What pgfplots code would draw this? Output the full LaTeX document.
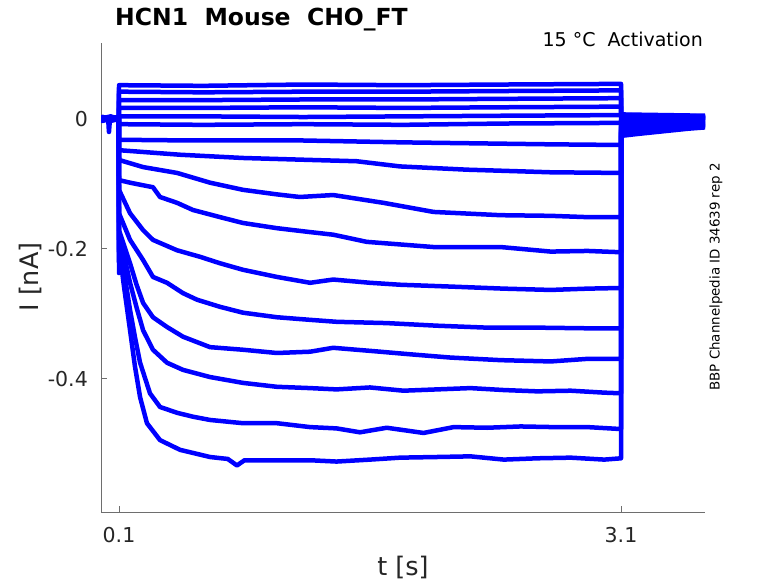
\documentclass[border=0pt]{standalone}
\usepackage{pgfplots}
\pgfplotsset{compat=1.18}
\usepackage{fontspec}
\setmainfont{DejaVu Sans}
\definecolor{axgray}{RGB}{110,110,110}
\definecolor{txt}{RGB}{38,38,38}
\definecolor{trace}{RGB}{0,0,255}
\pgfplotsset{tr/.style={draw=trace, solid, line width=4.5pt, line join=round, line cap=round, mark=none}}
\begin{document}
\begin{tikzpicture}
\path[use as bounding box] (0pt,0pt) rectangle (778pt,583pt);
\begin{axis}[
  at={(101pt,71pt)}, anchor=south west,
  width=604pt, height=469pt, scale only axis,
  xmin=-0.0076, xmax=3.602, ymin=-0.6046, ymax=0.1169,
  axis x line*=bottom, axis y line*=left,
  axis line style={-, axgray, line width=1pt},
  tick align=inside, major tick length=6pt,
  tick style={axgray, line width=1pt},
  xtick={0.1,3.1}, xticklabels={0.1,3.1},
  ytick={-0.4,-0.2,0}, yticklabels={-0.4,-0.2,0},
  xticklabel style={font=\fontsize{20.5}{24}\selectfont, text=txt, anchor=north, inner sep=0pt, yshift=-15pt},
  yticklabel style={font=\fontsize{20.5}{24}\selectfont, text=txt, anchor=east, inner sep=0pt, xshift=-13pt},
]
% T10
\addplot[tr] coordinates {(0,0.001)(0.05,-0.003)(0.0995,0.0)(0.1,-0.237)(0.106,-0.21)(0.13,-0.258)(0.166,-0.325)(0.195,-0.38)(0.226,-0.428)(0.267,-0.468)(0.345,-0.494)(0.465,-0.509)(0.644,-0.52)(0.75,-0.523)(0.805,-0.533)(0.85,-0.525)(0.943,-0.525)(1.242,-0.525)(1.4,-0.527)(1.6,-0.524)(1.78,-0.521)(2.0,-0.52)(2.2,-0.519)(2.4,-0.524)(2.6,-0.522)(2.8,-0.521)(3.0,-0.524)(3.1,-0.522)(3.1,-0.026)(3.2,-0.023)(3.35,-0.019)(3.5,-0.015)(3.6,-0.013)};
% T9
\addplot[tr] coordinates {(0,-0.001)(0.05,0.002)(0.0995,-0.002)(0.1,-0.22)(0.106,-0.19)(0.13,-0.235)(0.166,-0.294)(0.195,-0.335)(0.226,-0.375)(0.285,-0.422)(0.345,-0.443)(0.447,-0.452)(0.542,-0.458)(0.644,-0.463)(0.841,-0.468)(1.044,-0.468)(1.242,-0.474)(1.4,-0.476)(1.54,-0.482)(1.7,-0.475)(1.92,-0.483)(2.1,-0.474)(2.3,-0.475)(2.5,-0.473)(2.7,-0.474)(2.9,-0.474)(3.1,-0.477)(3.1,-0.023)(3.2,-0.021)(3.35,-0.017)(3.5,-0.013)(3.6,-0.011)};
% T8
\addplot[tr] coordinates {(0,0.003)(0.05,0.0)(0.0995,0.002)(0.1,-0.2)(0.106,-0.182)(0.166,-0.252)(0.205,-0.29)(0.244,-0.325)(0.303,-0.355)(0.387,-0.375)(0.483,-0.386)(0.644,-0.397)(0.841,-0.406)(1.044,-0.412)(1.242,-0.414)(1.4,-0.416)(1.6,-0.413)(1.8,-0.418)(2.0,-0.416)(2.2,-0.414)(2.4,-0.417)(2.6,-0.419)(2.8,-0.418)(3.0,-0.421)(3.1,-0.422)(3.1,-0.021)(3.2,-0.019)(3.35,-0.015)(3.5,-0.012)(3.6,-0.010)};
% T7
\addplot[tr] coordinates {(0,0.0)(0.05,-0.002)(0.0995,0.001)(0.1,-0.171)(0.166,-0.222)(0.205,-0.255)(0.244,-0.283)(0.303,-0.305)(0.387,-0.32)(0.483,-0.335)(0.644,-0.351)(0.841,-0.355)(1.044,-0.36)(1.242,-0.358)(1.38,-0.352)(1.66,-0.358)(1.84,-0.362)(2.08,-0.367)(2.38,-0.371)(2.68,-0.373)(2.9,-0.369)(3.1,-0.369)(3.1,-0.019)(3.2,-0.017)(3.35,-0.014)(3.5,-0.011)(3.6,-0.009)};
% T6
\addplot[tr] coordinates {(0,0.002)(0.05,0.001)(0.0995,-0.001)(0.1,-0.145)(0.166,-0.186)(0.244,-0.217)(0.303,-0.243)(0.387,-0.252)(0.483,-0.268)(0.566,-0.278)(0.704,-0.289)(0.841,-0.298)(1.044,-0.305)(1.242,-0.309)(1.4,-0.312)(1.7,-0.314)(2.0,-0.318)(2.3,-0.321)(2.6,-0.321)(2.9,-0.322)(3.1,-0.322)(3.1,-0.017)(3.2,-0.015)(3.35,-0.012)(3.5,-0.01)(3.6,-0.008)};
% T5
\addplot[tr] coordinates {(0,-0.002)(0.05,0.001)(0.0995,0.0)(0.1,-0.109)(0.166,-0.145)(0.244,-0.171)(0.303,-0.186)(0.447,-0.202)(0.584,-0.212)(0.704,-0.222)(0.841,-0.232)(1.044,-0.243)(1.242,-0.252)(1.38,-0.247)(1.6,-0.252)(1.78,-0.255)(2.1,-0.258)(2.4,-0.261)(2.68,-0.263)(2.9,-0.261)(3.1,-0.26)(3.1,-0.014)(3.2,-0.012)(3.35,-0.01)(3.5,-0.008)(3.6,-0.006)};
% T4
\addplot[tr] coordinates {(0,0.001)(0.05,0.003)(0.0995,0.0)(0.1,-0.094)(0.166,-0.098)(0.303,-0.105)(0.345,-0.12)(0.447,-0.129)(0.542,-0.14)(0.704,-0.151)(0.841,-0.16)(1.044,-0.168)(1.242,-0.174)(1.38,-0.178)(1.58,-0.189)(1.98,-0.197)(2.38,-0.197)(2.68,-0.204)(2.9,-0.203)(3.1,-0.205)(3.1,-0.011)(3.2,-0.009)(3.35,-0.007)(3.5,-0.005)(3.6,-0.004)};
% T3
\addplot[tr] coordinates {(0,-0.001)(0.05,0.0)(0.0995,0.002)(0.1,-0.063)(0.244,-0.074)(0.447,-0.083)(0.644,-0.098)(0.841,-0.109)(1.044,-0.116)(1.18,-0.12)(1.38,-0.117)(1.68,-0.129)(1.98,-0.143)(2.38,-0.148)(2.68,-0.149)(2.9,-0.151)(3.1,-0.151)(3.1,-0.008)(3.2,-0.007)(3.35,-0.005)(3.5,-0.004)(3.6,-0.003)};
% T2
\addplot[tr] coordinates {(0,0.002)(0.05,-0.001)(0.0995,0.001)(0.1,-0.048)(0.465,-0.055)(0.841,-0.06)(1.242,-0.063)(1.52,-0.065)(1.78,-0.073)(2.18,-0.078)(2.68,-0.082)(3.1,-0.083)(3.1,-0.005)(3.2,-0.004)(3.35,-0.003)(3.5,-0.002)(3.6,-0.001)};
% T1
\addplot[tr] coordinates {(0,-0.003)(0.05,0.0)(0.0995,-0.001)(0.1,-0.032)(0.5,-0.033)(1.18,-0.033)(1.8,-0.036)(2.68,-0.039)(3.1,-0.04)(3.1,-0.002)(3.2,-0.001)(3.35,0.0)(3.5,0.001)(3.6,0.001)};
% U6
\addplot[tr] coordinates {(0,0.003)(0.035,0.001)(0.04,-0.02)(0.046,0.0)(0.0995,0.002)(0.1,-0.008)(0.6,-0.009)(1.2,-0.008)(1.8,-0.009)(2.4,-0.007)(3.1,-0.006)(3.1,0.001)(3.35,0.001)(3.6,0.001)};
% U5
\addplot[tr] coordinates {(0,0.0)(0.05,0.003)(0.0995,0.0)(0.1,0.004)(0.6,0.004)(1.2,0.003)(1.8,0.004)(2.4,0.005)(3.1,0.006)(3.1,0.003)(3.35,0.0025)(3.6,0.002)};
% U4
\addplot[tr] coordinates {(0,0.002)(0.05,-0.001)(0.0995,0.001)(0.1,0.017)(0.6,0.017)(1.2,0.018)(1.8,0.017)(2.4,0.018)(3.1,0.019)(3.1,0.004)(3.35,0.0035)(3.6,0.003)};
% U3
\addplot[tr] coordinates {(0,-0.001)(0.05,0.002)(0.0995,0.003)(0.1,0.029)(0.6,0.029)(1.2,0.030)(1.8,0.030)(2.4,0.031)(3.1,0.032)(3.1,0.005)(3.35,0.004)(3.6,0.003)};
% U2
\addplot[tr] coordinates {(0,0.001)(0.05,0.004)(0.0995,0.0)(0.1,0.042)(0.6,0.041)(1.2,0.042)(1.8,0.042)(2.4,0.043)(3.1,0.044)(3.1,0.006)(3.35,0.005)(3.6,0.004)};
% U1
\addplot[tr] coordinates {(0,0.003)(0.05,0.001)(0.0995,0.002)(0.1,0.052)(0.6,0.051)(1.2,0.053)(1.8,0.052)(2.4,0.053)(3.1,0.054)(3.1,0.007)(3.35,0.006)(3.6,0.005)};
\end{axis}
\node[anchor=base west, inner sep=0pt, font=\fontsize{23.5}{28}\selectfont\bfseries] at (115pt,557pt) {HCN1\ \ Mouse\ \ CHO\_FT};
\node[anchor=base east, inner sep=0pt, font=\fontsize{19}{23}\selectfont, text=black] at (703pt,536pt) {15 °C\ \ Activation};
\node[rotate=90, inner sep=0pt, font=\fontsize{13.4}{16}\selectfont, text=black] at (716pt,306pt) {BBP Channelpedia ID 34639 rep 2};
\node[anchor=base, inner sep=0pt, font=\fontsize{25.5}{30}\selectfont, text=txt] at (403pt,8pt) {t [s]};
\node[rotate=90, anchor=base, inner sep=0pt, font=\fontsize{25.5}{30}\selectfont, text=txt] at (38pt,306pt) {I [nA]};
\end{tikzpicture}
\end{document}
